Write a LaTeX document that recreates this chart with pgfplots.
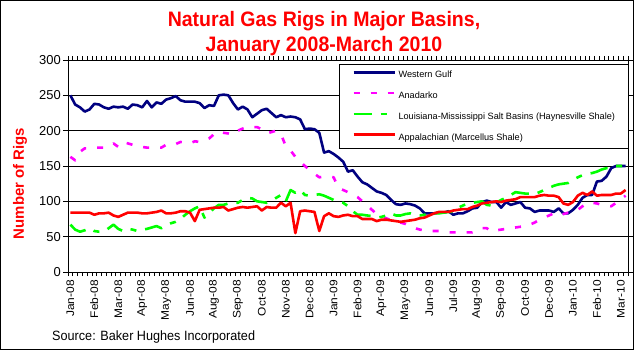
\documentclass[border=0pt]{standalone}
\usepackage{pgfplots}
\usepackage{pgfplotstable}
\usepackage{graphicx}
\usepackage{fontspec}
\setmainfont{Liberation Sans}
\pgfplotsset{compat=1.18}
\definecolor{wgnavy}{HTML}{000080}
\definecolor{anmag}{HTML}{FF00FF}
\definecolor{lmgreen}{HTML}{00FF00}
\definecolor{apred}{HTML}{FF0000}
\newcommand{\xl}[1]{\scalebox{1.09}[1]{#1}}
\pgfplotstableread{
i wg an lm ap
0 250 163 67 84
1 237 158 60 84
2 233 170 57 84
3 227 175 59 84
4 230 175 62 84
5 238 176 58 81
6 237 176 57 83
7 233 176 57 83
8 231 178 62 84
9 234 182 67 80
10 233 177 61 78
11 234 184 58 81
12 231 182 61 84
13 237 180 60 84
14 236 178 58 84
15 233 177 60 83
16 242 176 61 83
17 233 176 63 84
18 240 176 65 85
19 238 176 62 87
20 244 180 66 83
21 246 181 69 83
22 249 181 71 84
23 243 184 75 86
24 241 183 81 86
25 241 182 86 84
26 241 185 90 72
27 239 184 93 88
28 232 186 77 89
29 236 189 84 90
30 235 195 90 91
31 250 199 95 91
32 251 197 95 92
33 250 196 97 87
34 239 194 98 89
35 230 200 98 91
36 234 203 102 92
37 230 205 105 91
38 219 205 104 92
39 224 205 100 93
40 229 202 99 87
41 231 196 98 92
42 225 198 100 91
43 219 200 105 91
44 222 195 109 98
45 219 178 100 93
46 220 172 116 98
47 219 163 112 55
48 216 156 116 86
49 202 150 109 87
50 203 144 108 86
51 202 139 109 85
52 197 134 110 58
53 169 135 108 79
54 171 135 105 83
55 167 134 102 79
56 162 119 100 78
57 156 116 98 80
58 142 113 93 81
59 144 110 86 79
60 135 106 81 79
61 127 100 81 75
62 124 94 80 75
63 119 88 79 75
64 114 82 77 72
65 112 78 78 74
66 109 76 80 74
67 102 73 83 73
68 96 71 80 72
69 95 70 80 71
70 97 68 82 72
71 96 65 83 73
72 94 62 81 74
73 90 60 80 76
74 83 59 81 77
75 83 58 82 80
76 83 58 83 83
77 84 58 83 85
78 84 57 84 85
79 86 56 85 85
80 81 56 85 87
81 83 56 91 88
82 83 56 94 89
83 86 56 97 89
84 90 56 98 92
85 91 58 99 94
86 99 62 100 97
87 101 62 95 98
88 99 57 94 99
89 99 59 98 100
90 91 60 102 99
91 99 61 105 101
92 95 62 109 102
93 97 63 113 103
94 99 64 112 106
95 91 65 111 106
96 90 67 111 106
97 85 70 110 106
98 87 74 113 108
99 87 77 116 109
100 87 80 119 108
101 85 83 122 108
102 90 80 124 106
103 83 82 125 97
104 83 84 126 95
105 88 85 130 99
106 95 88 134 108
107 105 93 137 112
108 109 98 139 109
109 109 98 140 114
110 128 97 142 108
111 129 95 145 109
112 135 94 147 109
113 147 93 147 109
114 150 98 150 111
115 150 103 150 111
116 150 108 150 116
}\rigs
\begin{document}
\begin{tikzpicture}
\useasboundingbox (0,0) rectangle (634bp,350bp);
\fill[white] (0,0) rectangle (634bp,350bp);
\begin{axis}[
  at={(68bp,78bp)}, anchor=south west,
  scale only axis, width=560bp, height=212bp,
  xmin=-0.5, xmax=116.5, ymin=0, ymax=300,
  xtick={0,5,...,115},
  xticklabels={\xl{Jan-08},\xl{Feb-08},\xl{Mar-08},\xl{Apr-08},\xl{May-08},\xl{Jun-08},\xl{Aug-08},\xl{Sep-08},\xl{Oct-08},\xl{Nov-08},\xl{Dec-08},\xl{Jan-09},\xl{Feb-09},\xl{Apr-09},\xl{May-09},\xl{Jun-09},\xl{Jul-09},\xl{Aug-09},\xl{Sep-09},\xl{Oct-09},\xl{Dec-09},\xl{Jan-10},\xl{Feb-10},\xl{Mar-10}},
  minor xtick={-0.5,0.5,...,116.5},
  ytick={0,50,...,300},
  ymajorgrids,
  grid style={black, line width=0.9bp},
  axis line style={black, line width=0.9bp},
  tick align=outside,
  major tick length=5bp, minor tick length=4bp,
  tick style={black, line width=0.8bp},
  major x tick style={draw=none},
  /pgf/number format/assume math mode=true,
  yticklabel style={font=\fontsize{13}{15}\selectfont, inner xsep=2bp},
  xticklabel style={rotate=90, anchor=east, font=\fontsize{11}{13}\selectfont, inner xsep=3bp},
  legend style={at={(0.4839,0.9811)}, anchor=north west, draw=black, line width=0.9bp, fill=white,
    font=\fontsize{9.2}{11}\selectfont, inner xsep=13bp, inner ysep=6.3bp,
    row sep=11.8bp, column sep=2.5bp,
    nodes={inner sep=0pt, text height=7bp, text depth=2bp}},
  legend cell align=left,
  legend image code/.code={\draw[#1] (0bp,3bp) -- (41bp,3bp);},
  every axis plot/.append style={line width=2.6bp, line join=round},
]
\addplot[wgnavy] table[x=i, y=wg] {\rigs};
\addlegendentry{Western Gulf}
\addplot[anmag, dash pattern=on 6bp off 11bp] table[x=i, y=an] {\rigs};
\addlegendentry{Anadarko}
\addplot[lmgreen, dash pattern=on 18bp off 9bp on 6bp off 9bp] table[x=i, y=lm] {\rigs};
\addlegendentry{Louisiana-Mississippi Salt Basins (Haynesville Shale)}
\addplot[apred] table[x=i, y=ap] {\rigs};
\addlegendentry{Appalachian (Marcellus Shale)}
\end{axis}
\node[anchor=base, text=apred] at (324bp,323bp) {\scalebox{0.933}[1]{\fontsize{21}{24}\selectfont\bfseries Natural Gas Rigs in Major Basins,}};
\node[anchor=base, text=apred] at (324bp,298bp) {\scalebox{0.933}[1]{\fontsize{21}{24}\selectfont\bfseries January 2008-March 2010}};
\node[rotate=90, text=apred, font=\fontsize{15}{18}\selectfont\bfseries] at (20bp,166.5bp) {Number of Rigs};
\node[anchor=base west, inner sep=0pt] at (52bp,10bp) {\scalebox{0.94}[1]{\fontsize{13.5}{16}\selectfont Source: Baker Hughes Incorporated}};
\draw[black, line width=1bp] (0.5bp,0.5bp) rectangle (633.5bp,349.5bp);
\end{tikzpicture}
\end{document}
